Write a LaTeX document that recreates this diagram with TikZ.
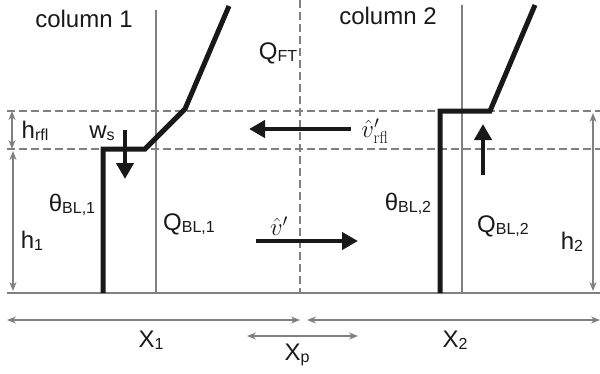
\documentclass[tikz,border=0pt]{standalone}
\usepackage[no-math]{fontspec}
\setmainfont{Liberation Sans}
\usetikzlibrary{arrows.meta}
\newcommand\lsub[1]{\raisebox{-2pt}{\fontsize{16}{16}\selectfont #1}}
\begin{document}
\begin{tikzpicture}[x=1pt,y=-1pt,
  gline/.style={draw=black!50,line width=2pt},
  gdash/.style={draw=black!50,line width=2.2pt,dash pattern=on 8pt off 4pt},
  blk/.style={draw=black!90,line width=5pt,line join=miter},
  gdim/.style={draw=black!50,line width=1.4pt,{Stealth[length=9pt,width=7pt]}-{Stealth[length=9pt,width=7pt]}},
  barrow/.style={draw=black!90,line width=4pt,-{Triangle[length=16pt,width=17pt]}},
  lbl/.style={inner sep=0pt,text=black!90,font=\fontsize{24}{26}\selectfont},
  mlbl/.style={inner sep=0pt,text=black!90,font=\fontsize{27}{29}\selectfont}]
\useasboundingbox (0,0) rectangle (600,373);
% coordinates
\coordinate (g0) at (7,293); \coordinate (g1) at (600,293);
\coordinate (c1t) at (156,10); \coordinate (c1b) at (156,293);
\coordinate (c2t) at (462,5); \coordinate (c2b) at (462,293);
\coordinate (mt) at (300,0); \coordinate (mb) at (300,293);
\coordinate (d1a) at (7,111); \coordinate (d1b) at (600,111);
\coordinate (d2a) at (7,149); \coordinate (d2b) at (600,149);
% dashed and grey lines
\draw[gdash] (d1a) -- (d1b);
\draw[gdash] (d2a) -- (d2b);
\draw[gdash] (mt) -- (mb);
\draw[gline] (c1t) -- (c1b);
\draw[gline] (c2t) -- (c2b);
\draw[gline] (g0) -- (g1);
% black boundaries
\coordinate (b1a) at (103,293); \coordinate (b1b) at (103,149); \coordinate (b1c) at (145,149);
\coordinate (b1d) at (185,109); \coordinate (b1e) at (229,6);
\draw[blk] (b1a) -- (b1b) -- (b1c) -- (b1d) -- (b1e);
\coordinate (b2a) at (440,293); \coordinate (b2b) at (440,111); \coordinate (b2c) at (490,111);
\coordinate (b2e) at (535,5);
\draw[blk] (b2a) -- (b2b) -- (b2c) -- (b2e);
% black arrows
\coordinate (ws0) at (125,130); \coordinate (ws1) at (125,179);
\draw[barrow] (ws0) -- (ws1);
\coordinate (up0) at (483,175); \coordinate (up1) at (483,124);
\draw[barrow] (up0) -- (up1);
\coordinate (vr0) at (351,129); \coordinate (vr1) at (249,129);
\draw[barrow] (vr0) -- (vr1);
\coordinate (v0) at (256,241); \coordinate (v1) at (358,241);
\draw[barrow] (v0) -- (v1);
% dimension arrows
\coordinate (hr0) at (12,111); \coordinate (hr1) at (12,149);
\draw[gdim] (hr0) -- (hr1);
\coordinate (h10) at (13,151); \coordinate (h11) at (13,291);
\draw[gdim] (h10) -- (h11);
\coordinate (h20) at (593,113); \coordinate (h21) at (593,291);
\draw[gdim] (h20) -- (h21);
\coordinate (x10) at (7,320); \coordinate (x11) at (300,320);
\draw[gdim] (x10) -- (x11);
\coordinate (x20) at (307,320); \coordinate (x21) at (600,320);
\draw[gdim] (x20) -- (x21);
\coordinate (xp0) at (247,336); \coordinate (xp1) at (358,336);
\draw[gdim] (xp0) -- (xp1);
% labels
\node[lbl] (col1) at (84,19) {column 1};
\node[lbl] (col2) at (388,16) {column 2};
\node[lbl] (qft) at (278,53) {Q\lsub{FT}};
\node[lbl] (hrfl) at (35,131) {h\lsub{rfl}};
\node[lbl] (wsl) at (102,133) {w\lsub{s}};
\node[mlbl] (vrfl) at (375,131) {$\hat{v}'_{\mathrm{rfl}}$};
\node[mlbl] (vp) at (279,226) {$\hat{v}'$};
\node[lbl] (th1) at (72,205) {θ\lsub{BL,1}};
\node[lbl] (qbl1) at (189,224) {Q\lsub{BL,1}};
\node[lbl] (h1l) at (32,241) {h\lsub{1}};
\node[lbl] (th2) at (408,204) {θ\lsub{BL,2}};
\node[lbl] (qbl2) at (503,226) {Q\lsub{BL,2}};
\node[lbl] (h2l) at (572,242) {h\lsub{2}};
\node[lbl] (x1l) at (151,340) {X\lsub{1}};
\node[lbl] (x2l) at (455,340) {X\lsub{2}};
\node[lbl] (xpl) at (297,355) {X\lsub{p}};
\end{tikzpicture}
\end{document}
